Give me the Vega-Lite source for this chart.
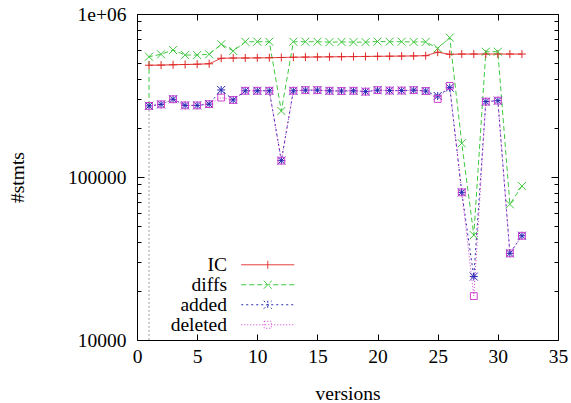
{
  "$schema": "https://vega.github.io/schema/vega-lite/v6.json",
  "width": 421,
  "height": 326,
  "autosize": "none",
  "padding": {"left": 137, "top": 14, "right": 13, "bottom": 63},
  "background": "white",
  "config": {
    "view": {"stroke": "black", "strokeWidth": 1},
    "font": "'Liberation Serif', 'Times New Roman', serif",
    "axis": {
      "labelFont": "'Liberation Serif', 'Times New Roman', serif", "titleFont": "'Liberation Serif', 'Times New Roman', serif",
      "labelFontSize": 19.5, "titleFontSize": 19.5, "titleFontWeight": "normal",
      "labelColor": "black", "titleColor": "black", "tickColor": "black",
      "domain": false, "grid": false, "tickWidth": 1
    },
    "legend": {
      "orient": "none", "legendX": 21, "legendY": 241,
      "labelFont": "'Liberation Serif', 'Times New Roman', serif", "labelFontSize": 19.5, "labelColor": "black",
      "labelAlign": "right", "labelOffset": -50.5, "symbolOffset": 100,
      "symbolSize": 100, "symbolStrokeWidth": 1, "symbolType": "M-21,0L-21,0M-5.3,0H5.3",
      "rowPadding": -1, "padding": 0
    }
  },
  "datasets": {
    "pts": [
      {"v": 1, "s": "IC", "n": 485000}, {"v": 2, "s": "IC", "n": 486000}, {"v": 3, "s": "IC", "n": 488000}, {"v": 4, "s": "IC", "n": 490000},
      {"v": 5, "s": "IC", "n": 492000}, {"v": 6, "s": "IC", "n": 495000}, {"v": 7, "s": "IC", "n": 535000}, {"v": 8, "s": "IC", "n": 537000},
      {"v": 9, "s": "IC", "n": 537000}, {"v": 10, "s": "IC", "n": 538000}, {"v": 11, "s": "IC", "n": 539000}, {"v": 12, "s": "IC", "n": 541000},
      {"v": 13, "s": "IC", "n": 543000}, {"v": 14, "s": "IC", "n": 544000}, {"v": 15, "s": "IC", "n": 545000}, {"v": 16, "s": "IC", "n": 546000},
      {"v": 17, "s": "IC", "n": 547000}, {"v": 18, "s": "IC", "n": 548000}, {"v": 19, "s": "IC", "n": 549000}, {"v": 20, "s": "IC", "n": 550000},
      {"v": 21, "s": "IC", "n": 551000}, {"v": 22, "s": "IC", "n": 552000}, {"v": 23, "s": "IC", "n": 553000}, {"v": 24, "s": "IC", "n": 555000},
      {"v": 25, "s": "IC", "n": 583000}, {"v": 26, "s": "IC", "n": 566000}, {"v": 27, "s": "IC", "n": 568000}, {"v": 28, "s": "IC", "n": 568000},
      {"v": 29, "s": "IC", "n": 568000}, {"v": 30, "s": "IC", "n": 568000}, {"v": 31, "s": "IC", "n": 568000}, {"v": 32, "s": "IC", "n": 568000},

      {"v": 1, "s": "diffs", "n": 273000}, {"v": 1, "s": "diffs", "n": 547000}, {"v": 2, "s": "diffs", "n": 566000}, {"v": 3, "s": "diffs", "n": 601000},
      {"v": 4, "s": "diffs", "n": 560000}, {"v": 5, "s": "diffs", "n": 560000}, {"v": 6, "s": "diffs", "n": 566000}, {"v": 7, "s": "diffs", "n": 652000},
      {"v": 8, "s": "diffs", "n": 593000}, {"v": 9, "s": "diffs", "n": 676000}, {"v": 10, "s": "diffs", "n": 676000}, {"v": 11, "s": "diffs", "n": 676000},
      {"v": 12, "s": "diffs", "n": 254000}, {"v": 13, "s": "diffs", "n": 676000}, {"v": 14, "s": "diffs", "n": 676000}, {"v": 15, "s": "diffs", "n": 676000},
      {"v": 16, "s": "diffs", "n": 672000}, {"v": 17, "s": "diffs", "n": 674000}, {"v": 18, "s": "diffs", "n": 672000}, {"v": 19, "s": "diffs", "n": 672000},
      {"v": 20, "s": "diffs", "n": 678000}, {"v": 21, "s": "diffs", "n": 676000}, {"v": 22, "s": "diffs", "n": 676000}, {"v": 23, "s": "diffs", "n": 674000},
      {"v": 24, "s": "diffs", "n": 674000}, {"v": 25, "s": "diffs", "n": 616000}, {"v": 26, "s": "diffs", "n": 716000}, {"v": 27, "s": "diffs", "n": 161000},
      {"v": 28, "s": "diffs", "n": 44000}, {"v": 29, "s": "diffs", "n": 587000}, {"v": 30, "s": "diffs", "n": 587000}, {"v": 31, "s": "diffs", "n": 68000},
      {"v": 32, "s": "diffs", "n": 88000},

      {"v": 1, "s": "added", "n": 273000}, {"v": 2, "s": "added", "n": 279000}, {"v": 3, "s": "added", "n": 300000}, {"v": 4, "s": "added", "n": 275000},
      {"v": 5, "s": "added", "n": 275000}, {"v": 6, "s": "added", "n": 280000}, {"v": 7, "s": "added", "n": 342000}, {"v": 8, "s": "added", "n": 297000},
      {"v": 9, "s": "added", "n": 338000}, {"v": 10, "s": "added", "n": 338000}, {"v": 11, "s": "added", "n": 338000}, {"v": 12, "s": "added", "n": 126000},
      {"v": 13, "s": "added", "n": 338000}, {"v": 14, "s": "added", "n": 341000}, {"v": 15, "s": "added", "n": 341000}, {"v": 16, "s": "added", "n": 338000},
      {"v": 17, "s": "added", "n": 337000}, {"v": 18, "s": "added", "n": 338000}, {"v": 19, "s": "added", "n": 334000}, {"v": 20, "s": "added", "n": 341000},
      {"v": 21, "s": "added", "n": 339000}, {"v": 22, "s": "added", "n": 339000}, {"v": 23, "s": "added", "n": 341000}, {"v": 24, "s": "added", "n": 337000},
      {"v": 25, "s": "added", "n": 314000}, {"v": 26, "s": "added", "n": 353000}, {"v": 27, "s": "added", "n": 80500}, {"v": 28, "s": "added", "n": 24500},
      {"v": 29, "s": "added", "n": 290000}, {"v": 30, "s": "added", "n": 294000}, {"v": 31, "s": "added", "n": 34000}, {"v": 32, "s": "added", "n": 43600},

      {"v": 1, "s": "deleted", "n": 273000}, {"v": 2, "s": "deleted", "n": 279000}, {"v": 3, "s": "deleted", "n": 300000}, {"v": 4, "s": "deleted", "n": 275000},
      {"v": 5, "s": "deleted", "n": 275000}, {"v": 6, "s": "deleted", "n": 280000}, {"v": 7, "s": "deleted", "n": 307000}, {"v": 8, "s": "deleted", "n": 297000},
      {"v": 9, "s": "deleted", "n": 338000}, {"v": 10, "s": "deleted", "n": 338000}, {"v": 11, "s": "deleted", "n": 338000}, {"v": 12, "s": "deleted", "n": 126000},
      {"v": 13, "s": "deleted", "n": 338000}, {"v": 14, "s": "deleted", "n": 341000}, {"v": 15, "s": "deleted", "n": 341000}, {"v": 16, "s": "deleted", "n": 338000},
      {"v": 17, "s": "deleted", "n": 337000}, {"v": 18, "s": "deleted", "n": 338000}, {"v": 19, "s": "deleted", "n": 334000}, {"v": 20, "s": "deleted", "n": 341000},
      {"v": 21, "s": "deleted", "n": 339000}, {"v": 22, "s": "deleted", "n": 339000}, {"v": 23, "s": "deleted", "n": 341000}, {"v": 24, "s": "deleted", "n": 337000},
      {"v": 25, "s": "deleted", "n": 301000}, {"v": 26, "s": "deleted", "n": 362000}, {"v": 27, "s": "deleted", "n": 80500}, {"v": 28, "s": "deleted", "n": 18600},
      {"v": 29, "s": "deleted", "n": 290000}, {"v": 30, "s": "deleted", "n": 294000}, {"v": 31, "s": "deleted", "n": 34000}, {"v": 32, "s": "deleted", "n": 43600}
    ],
    "drop": [{"v": 1, "n": 273000}]
  },
  "layer": [
    {
      "data": {"name": "drop"},
      "mark": {"type": "rule", "color": "#9a9a9a", "strokeDash": [2, 2], "strokeWidth": 1},
      "encoding": {
        "x": {"field": "v", "type": "quantitative", "scale": {"domain": [0, 35], "nice": false, "zero": false}, "axis": null},
        "y": {"field": "n", "type": "quantitative", "scale": {"type": "log", "domain": [10000, 1000000], "nice": false}, "axis": null},
        "y2": {"datum": 10000}
      }
    },
    {
      "data": {"name": "pts"},
      "mark": {"type": "line", "strokeWidth": 1, "clip": true},
      "encoding": {
        "x": {"field": "v", "type": "quantitative", "scale": {"domain": [0, 35], "nice": false, "zero": false},
              "axis": {"orient": "bottom", "values": [0, 5, 10, 15, 20, 25, 30, 35], "tickSize": -6, "labelPadding": 13, "title": "versions", "titlePadding": 19, "labelFlush": false}},
        "y": {"field": "n", "type": "quantitative", "scale": {"type": "log", "domain": [10000, 1000000], "nice": false},
              "axis": {"orient": "left", "title": "#stmts", "titlePadding": 40,
                       "values": [10000, 20000, 30000, 40000, 50000, 60000, 70000, 80000, 90000, 100000, 200000, 300000, 400000, 500000, 600000, 700000, 800000, 900000, 1000000],
                       "tickSize": {"condition": {"test": "datum.value === 10000 || datum.value === 100000 || datum.value === 1000000", "value": -7}, "value": -4},
                       "labelExpr": "datum.value === 1000000 ? '1e+06' : (datum.value === 100000 ? '100000' : (datum.value === 10000 ? '10000' : ''))",
                       "labelPadding": 18, "labelFlush": false}},
        "color": {"field": "s", "type": "nominal",
                  "scale": {"domain": ["IC", "diffs", "added", "deleted"], "range": ["#e02828", "#40c840", "#2828b4", "#d040d0"]},
                  "legend": {"title": null,
                             "encode": {"symbols": {"update": {
                               "shape": {"signal": "datum.value === 'IC' ? 'M-21,0L-21,0M-5.3,0H5.3M0,-0.8V0.8' : datum.value === 'diffs' ? 'M-21,0L-21,0M-5.3,0H5.3M-0.8,-0.8L0.8,0.8M-0.8,0.8L0.8,-0.8' : datum.value === 'added' ? 'M-21,0L-21,0M-5.3,0H5.3M-0.8,-0.8L0.8,0.8M-0.8,0.8L0.8,-0.8M0,-0.8V0.8' : 'M-21,0L-21,0M-5.3,0H5.3M-0.7,-0.7H0.7V0.7H-0.7Z'"},
                               "strokeDash": {"signal": "datum.value === 'IC' ? [1, 0] : datum.value === 'diffs' ? [5, 3] : datum.value === 'added' ? [2, 3] : [1, 2]"},
                               "stroke": {"scale": "color", "field": "value"},
                               "strokeWidth": {"value": 1},
                               "opacity": {"value": 1},
                               "size": {"value": 100},
                               "fill": {"value": "transparent"}
                             }}}}},
        "strokeDash": {"field": "s", "type": "nominal",
                       "scale": {"domain": ["IC", "diffs", "added", "deleted"], "range": [[1, 0], [5, 3], [2, 3], [1, 2]]},
                       "legend": null},
        "order": {"value": null}
      }
    },
    {
      "data": {"name": "pts"},
      "transform": [{"filter": "datum.s === 'IC'"}],
      "mark": {"type": "point", "filled": false, "size": 64, "strokeWidth": 1, "opacity": 1, "clip": true, "color": "#e02828", "shape": "M-1,0H1M0,-1V1"},
      "encoding": {
        "x": {"field": "v", "type": "quantitative", "scale": {"domain": [0, 35], "nice": false, "zero": false},
              "axis": {"orient": "top", "values": [0, 5, 10, 15, 20, 25, 30, 35], "tickSize": -6, "labels": false, "title": null}},
        "y": {"field": "n", "type": "quantitative", "scale": {"type": "log", "domain": [10000, 1000000], "nice": false},
              "axis": {"orient": "right", "labels": false, "title": null,
                       "values": [10000, 20000, 30000, 40000, 50000, 60000, 70000, 80000, 90000, 100000, 200000, 300000, 400000, 500000, 600000, 700000, 800000, 900000, 1000000],
                       "tickSize": {"condition": {"test": "datum.value === 10000 || datum.value === 100000 || datum.value === 1000000", "value": -7}, "value": -4}}}
      }
    },
    {
      "data": {"name": "pts"},
      "transform": [{"filter": "datum.s === 'diffs'"}],
      "mark": {"type": "point", "filled": false, "size": 64, "strokeWidth": 1, "opacity": 1, "clip": true, "color": "#40c840", "shape": "M-1,-1L1,1M-1,1L1,-1"},
      "encoding": {
        "x": {"field": "v", "type": "quantitative", "scale": {"domain": [0, 35], "nice": false, "zero": false}, "axis": null},
        "y": {"field": "n", "type": "quantitative", "scale": {"type": "log", "domain": [10000, 1000000], "nice": false}, "axis": null}
      }
    },
    {
      "data": {"name": "pts"},
      "transform": [{"filter": "datum.s === 'added'"}],
      "mark": {"type": "point", "filled": false, "size": 64, "strokeWidth": 1, "opacity": 1, "clip": true, "color": "#2828b4", "shape": "M-1,-1L1,1M-1,1L1,-1M-1,0H1M0,-1V1"},
      "encoding": {
        "x": {"field": "v", "type": "quantitative", "scale": {"domain": [0, 35], "nice": false, "zero": false}, "axis": null},
        "y": {"field": "n", "type": "quantitative", "scale": {"type": "log", "domain": [10000, 1000000], "nice": false}, "axis": null}
      }
    },
    {
      "data": {"name": "pts"},
      "transform": [{"filter": "datum.s === 'deleted'"}],
      "mark": {"type": "point", "filled": false, "size": 64, "strokeWidth": 1, "opacity": 1, "clip": true, "color": "#d040d0", "shape": "M-0.85,-0.85H0.85V0.85H-0.85Z"},
      "encoding": {
        "x": {"field": "v", "type": "quantitative", "scale": {"domain": [0, 35], "nice": false, "zero": false}, "axis": null},
        "y": {"field": "n", "type": "quantitative", "scale": {"type": "log", "domain": [10000, 1000000], "nice": false}, "axis": null}
      }
    }
  ],
  "resolve": {"axis": {"x": "independent", "y": "independent"}}
}
